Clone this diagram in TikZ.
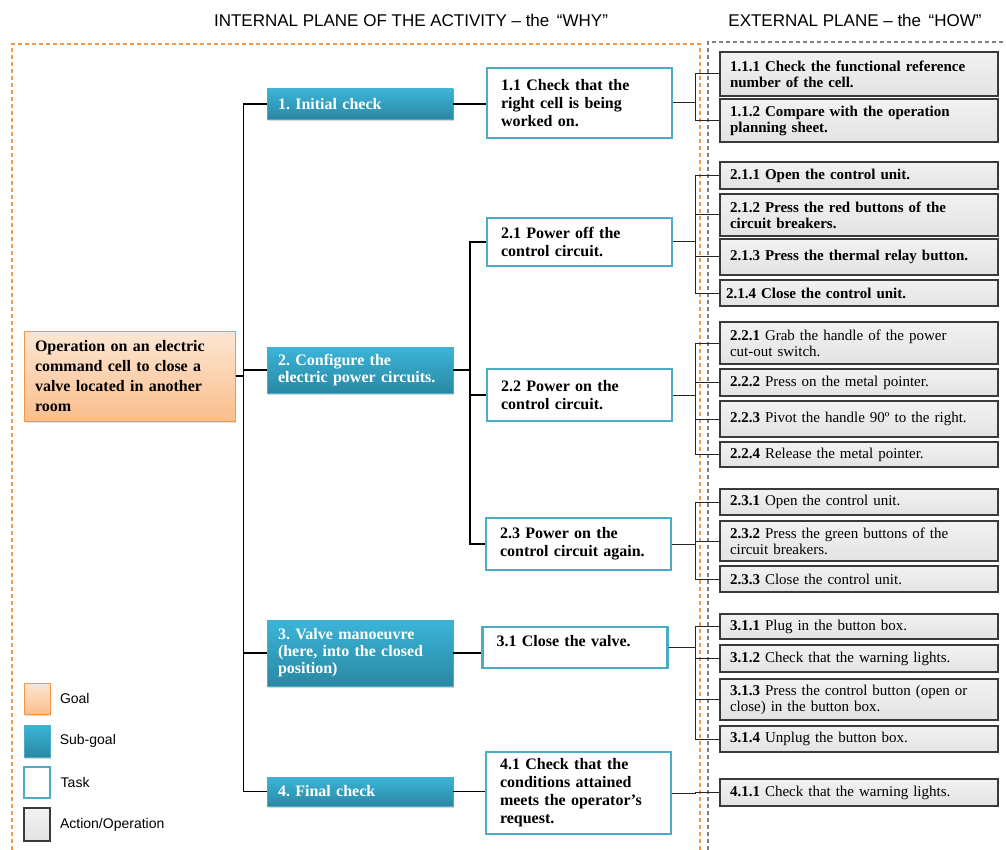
\documentclass[tikz,border=0pt]{standalone}
\usepackage{fontspec}
\setmainfont{Liberation Serif}
\setsansfont{Liberation Sans}
\usetikzlibrary{positioning,shadows}
\frenchspacing

\definecolor{goaltop}{HTML}{FDE6D3}
\definecolor{goalbot}{HTML}{FABE8C}
\definecolor{goalline}{HTML}{F79646}
\definecolor{sgtop}{HTML}{3BB5D8}
\definecolor{sgbot}{HTML}{2A88A3}
\definecolor{sgline}{HTML}{4BACC6}
\definecolor{acttop}{HTML}{F2F2F2}
\definecolor{actbot}{HTML}{E3E3E3}
\definecolor{actline}{HTML}{3A3A3A}
\definecolor{framegrey}{HTML}{808080}

\tikzset{
  goal/.style={draw=goalline, line width=1pt, top color=goaltop, bottom color=goalbot,
    align=left, text width=189pt, inner xsep=11pt, minimum width=211pt,
    font=\fontsize{16}{20}\selectfont\bfseries,
    drop shadow={shadow xshift=1pt, shadow yshift=-2pt, opacity=.25}},
  subgoal/.style={draw=sgline, line width=.6pt, top color=sgtop, bottom color=sgbot,
    text=white, align=left, text width=164pt, inner xsep=11pt, minimum width=186pt,
    font=\fontsize{16}{17}\selectfont\bfseries,
    drop shadow={shadow xshift=1pt, shadow yshift=-2pt, opacity=.3}},
  task/.style={draw=sgline, line width=2.4pt, fill=white, align=left,
    text width=157pt, inner xsep=14pt, minimum width=185pt,
    font=\fontsize{16}{18}\selectfont\bfseries},
  action/.style={draw=actline, line width=1.1pt, top color=acttop, bottom color=actbot,
    align=left, text width=258pt, inner xsep=10pt, inner ysep=1pt, minimum width=278pt,
    font=\fontsize{15}{16}\selectfont},
  head/.style={font=\sffamily\fontsize{17}{20}\selectfont},
  legtext/.style={font=\sffamily\fontsize{14}{16}\selectfont},
  link/.style={draw=black, line width=1.7pt},
  arm/.style={draw=black!85, line width=1pt},
}

\begin{document}
\begin{tikzpicture}[x=1pt, y=-1pt]
  \useasboundingbox (0,0) rectangle (1006,850);

  % planes
  \node[head] (hwhy) at (411,20) {INTERNAL PLANE OF THE ACTIVITY -- the \,“WHY”};
  \node[head] (hhow) at (855,20) {EXTERNAL PLANE -- the \,“HOW”};
  \draw[goalline, line width=1.3pt, dash pattern=on 4pt off 3pt]
    (12,850) -- (12,44) -- (700,44) -- (700,850);
  \draw[framegrey, line width=1.3pt, dash pattern=on 4pt off 3pt]
    (708,850) -- (708,42) -- (1006,42);

  % goal and sub-goals
  \node[goal, minimum height=90] (g) at (129.5,376)
    {Operation on an electric\\command cell to close a\\valve located in another\\room};

  \node[subgoal, minimum height=30] (s1) at (360,104) {1. Initial check};
  \node[subgoal, minimum height=46] (s2) at (360,370) {2. Configure the\\electric power circuits.};
  \node[subgoal, minimum height=66] (s3) at (360,653) {3. Valve manoeuvre\\(here, into the closed\\position)};
  \node[subgoal, minimum height=29] (s4) at (360,791.5) {4. Final check};

  % tasks
  \node[task, minimum height=70] (t11) at (579.5,103) {1.1 Check that the\\right cell is being\\worked on.};
  \node[task, minimum height=48] (t21) at (579.5,242) {2.1 Power off the\\control circuit.};
  \node[task, minimum height=52] (t22) at (579.5,395) {2.2 Power on the\\control circuit.};
  \node[task, minimum height=52] (t23) at (578.5,544) {2.3 Power on the\\control circuit again.};
  \node[task, minimum height=41] (t31) at (575,647.5) {3.1 Close the valve.\\[-4pt]~};
  \node[task, minimum height=82] (t41) at (578.5,793) {4.1 Check that the\\conditions attained\\meets the operator’s\\request.};

  % actions
  \node[action, minimum height=44, font=\fontsize{15}{16}\selectfont\bfseries] (a111) at (859,74)
    {1.1.1 Check the functional reference\\number of the cell.};
  \node[action, minimum height=43, font=\fontsize{15}{16}\selectfont\bfseries] (a112) at (859,120.5)
    {1.1.2 Compare with the operation\\planning sheet.};
  \node[action, minimum height=27, font=\fontsize{15}{16}\selectfont\bfseries] (a211) at (859,175.5)
    {2.1.1 Open the control unit.};
  \node[action, minimum height=42, font=\fontsize{15}{16}\selectfont\bfseries] (a212) at (859,215)
    {2.1.2 Press the red buttons of the\\circuit breakers.};
  \node[action, minimum height=36, font=\fontsize{15}{16}\selectfont\bfseries] (a213) at (859,257)
    {2.1.3 Press the thermal relay button.};
  \node[action, minimum height=26, font=\fontsize{15}{16}\selectfont\bfseries, inner xsep=6pt, text width=266pt] (a214) at (859,293)
    {2.1.4 Close the control unit.};
  \node[action, minimum height=42] (a221) at (859,343) {\textbf{2.2.1} Grab the handle of the power\\cut-out switch.};
  \node[action, minimum height=27] (a222) at (859,382.5) {\textbf{2.2.2} Press on the metal pointer.};
  \node[action, minimum height=36] (a223) at (859,419) {\textbf{2.2.3} Pivot the handle 90º to the right.};
  \node[action, minimum height=25] (a224) at (859,454.5) {\textbf{2.2.4} Release the metal pointer.};
  \node[action, minimum height=26] (a231) at (859,502) {\textbf{2.3.1} Open the control unit.};
  \node[action, minimum height=40] (a232) at (859,541) {\textbf{2.3.2} Press the green buttons of the\\circuit breakers.};
  \node[action, minimum height=26] (a233) at (859,579) {\textbf{2.3.3} Close the control unit.};
  \node[action, minimum height=25] (a311) at (859,626.5) {\textbf{3.1.1} Plug in the button box.};
  \node[action, minimum height=27] (a312) at (859,658.5) {\textbf{3.1.2} Check that the warning lights.};
  \node[action, minimum height=41] (a313) at (859,699.5) {\textbf{3.1.3} Press the control button (open or\\close) in the button box.};
  \node[action, minimum height=26] (a314) at (859,739) {\textbf{3.1.4} Unplug the button box.};
  \node[action, minimum height=27] (a411) at (859,792.5) {\textbf{4.1.1} Check that the warning lights.};

  % goal to sub-goals
  \draw[link] (g.east) -- ++(8,0) |- (s1.west);
  \draw[link] (g.east) -- ++(8,0) |- (s2.west);
  \draw[link] (g.east) -- ++(8,0) |- (s3.west);
  \draw[link] (g.east) -- ++(8,0) |- (s4.west);

  % sub-goals to tasks
  \draw[link] (s1.east) -- (t11.west |- s1.east);
  \draw[link] (s2.east) -- ++(17,0) |- (t21.west);
  \draw[link] (s2.east) -- ++(17,0) |- (t22.west);
  \draw[link] (s2.east) -- ++(17,0) |- (t23.west);
  \draw[link] (s3.east) -- (t31.west |- s3.east);
  \draw[link] (s4.east) -- (t41.west |- s4.east);

  % tasks to actions
  \foreach \t/\a in {t11/a111, t11/a112, t21/a211, t21/a212, t21/a213, t21/a214,
                     t22/a221, t22/a222, t22/a223, t22/a224, t23/a231, t23/a232, t23/a233,
                     t31/a311, t31/a312, t31/a313, t31/a314, t41/a411}
    \draw[arm] (\t.east) -- (\t.east -| 695,0) |- (\a.west);

  % legend
  \node[goal, minimum width=26, text width=0pt, inner xsep=0pt, minimum height=31] (lgoal) at (37,698.5) {};
  \node[subgoal, minimum width=26, text width=0pt, inner xsep=0pt, minimum height=32] (lsub) at (37,741) {};
  \node[task, minimum width=26, text width=0pt, inner xsep=0pt, minimum height=31] (ltask) at (37,782.5) {};
  \node[action, minimum width=26, text width=0pt, inner xsep=0pt, minimum height=33] (lact) at (37,824.5) {};
  \node[legtext, right=6pt of lgoal] {Goal};
  \node[legtext, right=6pt of lsub] {Sub-goal};
  \node[legtext, right=6pt of ltask] {Task};
  \node[legtext, right=6pt of lact] {Action/Operation};
\end{tikzpicture}
\end{document}
